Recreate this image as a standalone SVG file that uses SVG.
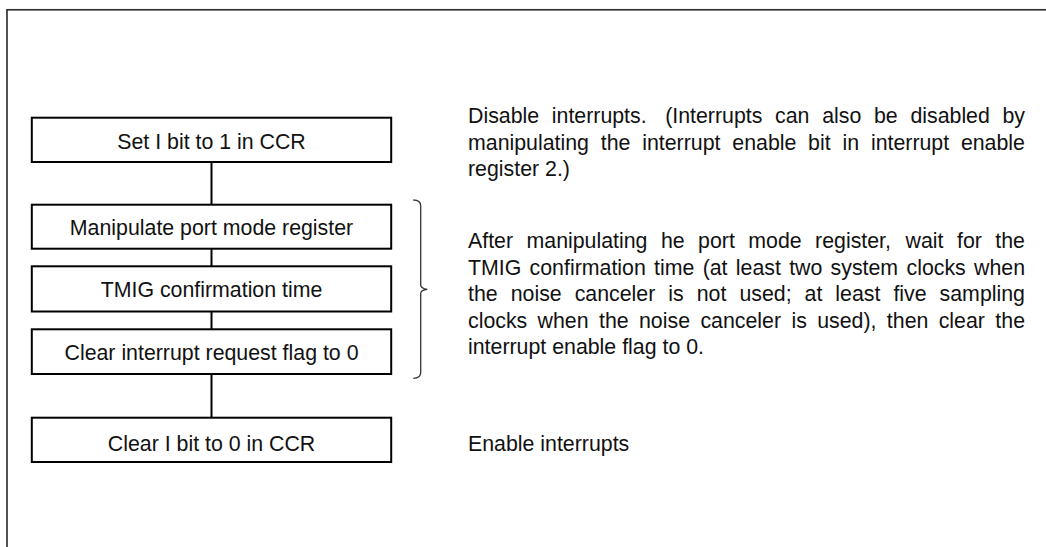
<svg xmlns="http://www.w3.org/2000/svg" width="1046" height="547" viewBox="0 0 1046 547">
<style>
.frame{fill:none;stroke:#333;stroke-width:1.7}
.box{fill:#fff;stroke:#000;stroke-width:2}
.conn{stroke:#000;stroke-width:2;fill:none}
.brace{stroke:#333;stroke-width:1.3;fill:none}
text{font-family:"Liberation Sans",Arial,sans-serif;font-size:21.33px;fill:#111}
.c{text-anchor:middle}
</style>
<rect width="1046" height="547" fill="#fff"/>
<rect class="frame" x="7" y="9.8" width="1050" height="550"/>
<g id="connectors">
<line class="conn" x1="211.5" y1="162" x2="211.5" y2="204.7"/>
<line class="conn" x1="211.5" y1="248.7" x2="211.5" y2="266.3"/>
<line class="conn" x1="211.5" y1="311.5" x2="211.5" y2="329.3"/>
<line class="conn" x1="211.5" y1="374" x2="211.5" y2="417.7"/>
</g>
<g id="n1"><rect class="box" x="31.8" y="117.7" width="359.4" height="44.3"/><text class="c" x="211.5" y="149">Set I bit to 1 in CCR</text></g>
<g id="n2"><rect class="box" x="31.8" y="204.7" width="359.4" height="44"/><text class="c" x="211.5" y="235">Manipulate port mode register</text></g>
<g id="n3"><rect class="box" x="31.8" y="266.3" width="359.4" height="45.2"/><text class="c" x="211.5" y="297.3">TMIG confirmation time</text></g>
<g id="n4"><rect class="box" x="31.8" y="329.3" width="359.4" height="44.7"/><text class="c" x="211.5" y="360">Clear interrupt request flag to 0</text></g>
<g id="n5"><rect class="box" x="31.8" y="417.7" width="359.4" height="44.3"/><text class="c" x="211.5" y="451.3">Clear I bit to 0 in CCR</text></g>
<g id="brace"><path class="brace" d="M413.3,200 Q420.7,200 420.7,206 L420.7,285 Q420.7,288.5 427.3,289.3 Q420.7,290 420.7,293.5 L420.7,372.5 Q420.7,378.3 413.3,378.3"/></g>
<g id="note1">
<text y="123.3"><tspan x="468">Disable</tspan><tspan x="551.8">interrupts.</tspan><tspan x="665.2">(Interrupts</tspan><tspan x="775.1">can</tspan><tspan x="822.2">also</tspan><tspan x="874">be</tspan><tspan x="910.4">disabled</tspan><tspan x="1002.5">by</tspan></text>
<text y="149.7"><tspan x="468">manipulating</tspan><tspan x="600.75">the</tspan><tspan x="642.2">interrupt</tspan><tspan x="732.3">enable</tspan><tspan x="808.1">bit</tspan><tspan x="842.5">in</tspan><tspan x="870.9">interrupt</tspan><tspan x="960.9">enable</tspan></text>
<text x="468" y="176.1">register 2.)</text>
</g>
<g id="note2">
<text y="248.3"><tspan x="468">After</tspan><tspan x="526.5">manipulating</tspan><tspan x="660.9">he</tspan><tspan x="698.1">port</tspan><tspan x="748.3">mode</tspan><tspan x="815.1">register,</tspan><tspan x="905.6">wait</tspan><tspan x="957">for</tspan><tspan x="995.3">the</tspan></text>
<text y="274.7"><tspan x="468">TMIG</tspan><tspan x="529.6">confirmation</tspan><tspan x="654.1">time</tspan><tspan x="702.65">(at</tspan><tspan x="735.8">least</tspan><tspan x="789.2">two</tspan><tspan x="830.6">system</tspan><tspan x="906.5">clocks</tspan><tspan x="974">when</tspan></text>
<text y="301.1"><tspan x="468">the</tspan><tspan x="510.7">noise</tspan><tspan x="574.7">canceler</tspan><tspan x="668.3">is</tspan><tspan x="696.7">not</tspan><tspan x="739.4">used;</tspan><tspan x="804.55">at</tspan><tspan x="835.35">least</tspan><tspan x="893.4">five</tspan><tspan x="939.6">sampling</tspan></text>
<text y="327.5"><tspan x="468">clocks</tspan><tspan x="537.6">when</tspan><tspan x="599">the</tspan><tspan x="639">noise</tspan><tspan x="700.4">canceler</tspan><tspan x="791.4">is</tspan><tspan x="817.2">used),</tspan><tspan x="886.85">then</tspan><tspan x="938.7">clear</tspan><tspan x="995.35">the</tspan></text>
<text x="468" y="353.9">interrupt enable flag to 0.</text>
</g>
<g id="note3"><text x="468" y="450.7">Enable interrupts</text></g>
</svg>
